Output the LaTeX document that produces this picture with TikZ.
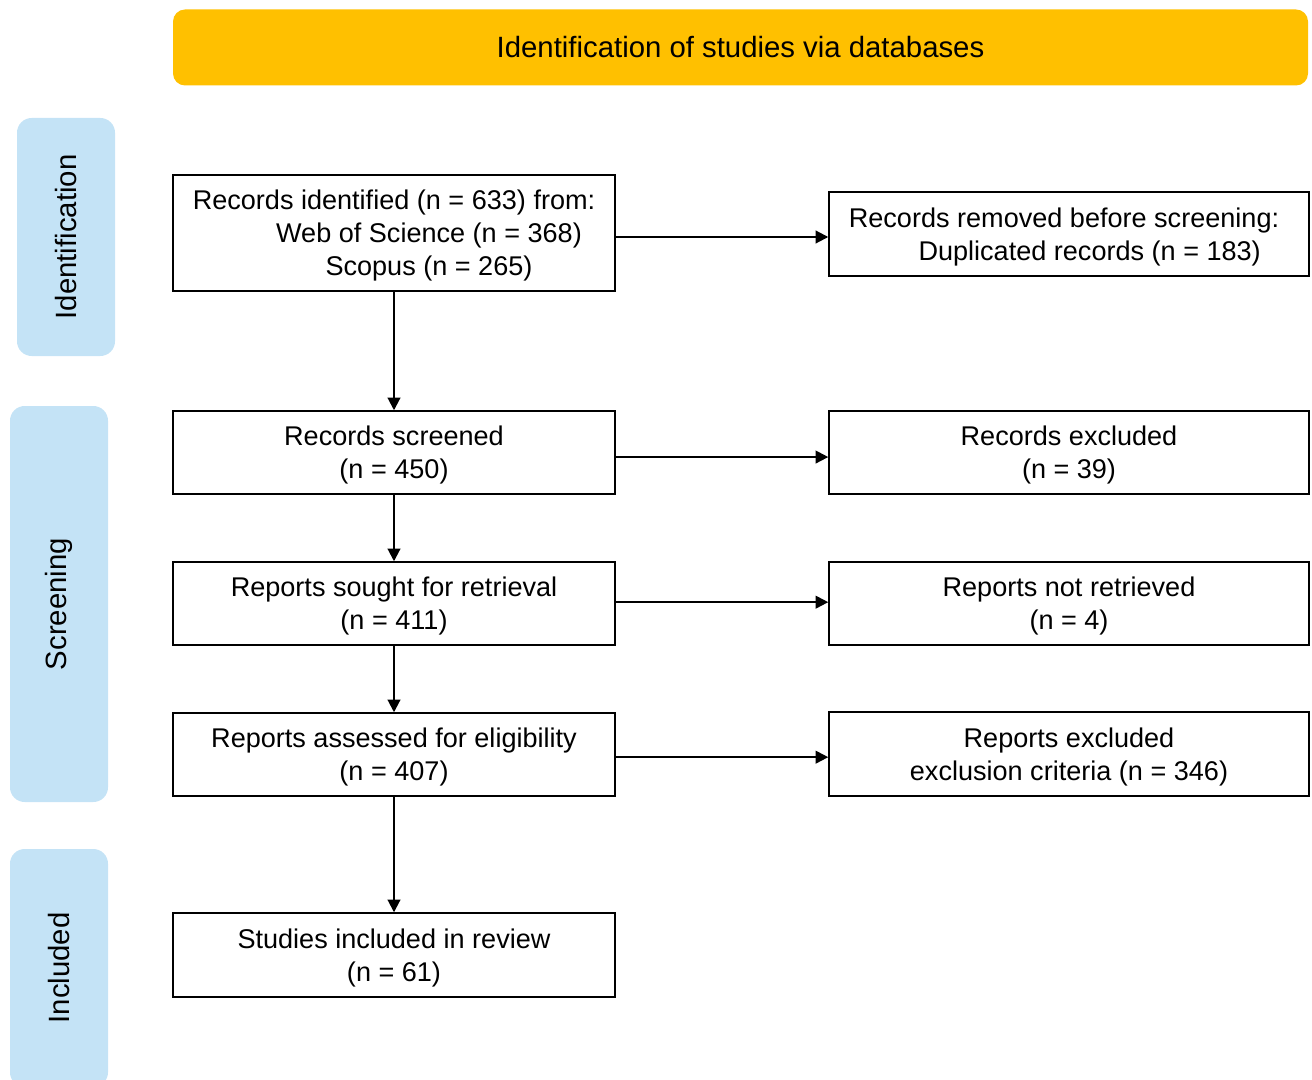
\documentclass[tikz,border=0pt]{standalone}
\usepackage{fontspec}
\setmainfont{Liberation Sans}
\usetikzlibrary{arrows.meta}
\definecolor{bannerc}{HTML}{FFC000}
\definecolor{sidec}{HTML}{C4E3F6}
\newcommand\boxtxt[1]{\raisebox{-2.4pt}[\height][\depth]{\begin{tabular}{@{}c@{}}#1\end{tabular}}}
\begin{document}
\begin{tikzpicture}[x=0.75pt,y=-0.75pt,
  box/.style={draw=black, line width=1.1pt, fill=white, align=center, inner sep=0pt,
    font=\fontsize{20.3}{24.75}\selectfont},
  lbox/.style={box, minimum width=331.5pt, minimum height=62.25pt},
  rbox/.style={box, minimum width=360pt, minimum height=63pt},
  side/.style={fill=sidec, rounded corners=11pt, rotate=90, minimum width=178.5pt,
    minimum height=73.5pt, inner sep=0pt, font=\fontsize{22}{26}\selectfont},
  banner/.style={fill=bannerc, rounded corners=9pt, minimum width=851.25pt,
    minimum height=57pt, inner sep=0pt, font=\fontsize{22}{26}\selectfont},
  arr/.style={line width=1.5pt, -{Triangle[length=9.5pt,width=9.5pt]}}
]
\useasboundingbox (0,0) rectangle (1312,1080);

\node[banner] (ban) at (740.5,47.5) {Identification of studies via databases};

\node[side] (sid) at (66,237) {Identification};
\node[side, minimum width=297pt] (scr) at (59,604) {Screening};
\node[side] (inc) at (59,968) {Included};

\node[lbox, minimum height=87pt] (b1) at (394,233)
  {\boxtxt{Records identified (n = 633) from:\\
   \hspace*{52.5pt}Web of Science (n = 368)\\
   \hspace*{52.5pt}Scopus (n = 265)}};
\node[rbox] (b2) at (1069,234)
  {\boxtxt{Records removed before screening:\hspace*{7.5pt}\\
   \hspace*{31pt}Duplicated records (n = 183)}};

\node[lbox] (b3) at (394,452.5) {\boxtxt{Records screened\\(n = 450)}};
\node[rbox, minimum height=62.25pt] (b4) at (1069,452.5) {\boxtxt{Records excluded\\(n = 39)}};

\node[lbox] (b5) at (394,603.5) {\boxtxt{Reports sought for retrieval\\(n = 411)}};
\node[rbox, minimum height=62.25pt] (b6) at (1069,603.5) {\boxtxt{Reports not retrieved\\(n = 4)}};

\node[lbox] (b7) at (394,754.5) {\boxtxt{Reports assessed for eligibility\\(n = 407)}};
\node[rbox] (b8) at (1069,754) {\boxtxt{Reports excluded\\exclusion criteria (n = 346)}};

\node[lbox, minimum height=63pt] (b9) at (394,955) {\boxtxt{Studies included in review\\(n = 61)}};

\draw[arr] (b1) -- (b3);
\draw[arr] (b3) -- (b5);
\draw[arr] (b5) -- (b7);
\draw[arr] (b7) -- (b9);

\draw[arr] ([yshift=-3pt]b1.east) -- ([yshift=-3pt]b1.east -| b2.west);
\draw[arr] ([yshift=-3.4pt]b3.east) -- ([yshift=-3.4pt]b4.west);
\draw[arr] ([yshift=1pt]b5.east) -- ([yshift=1pt]b6.west);
\draw[arr] ([yshift=-2pt]b7.east) -- ([yshift=-2pt]b7.east -| b8.west);
\end{tikzpicture}
\end{document}
